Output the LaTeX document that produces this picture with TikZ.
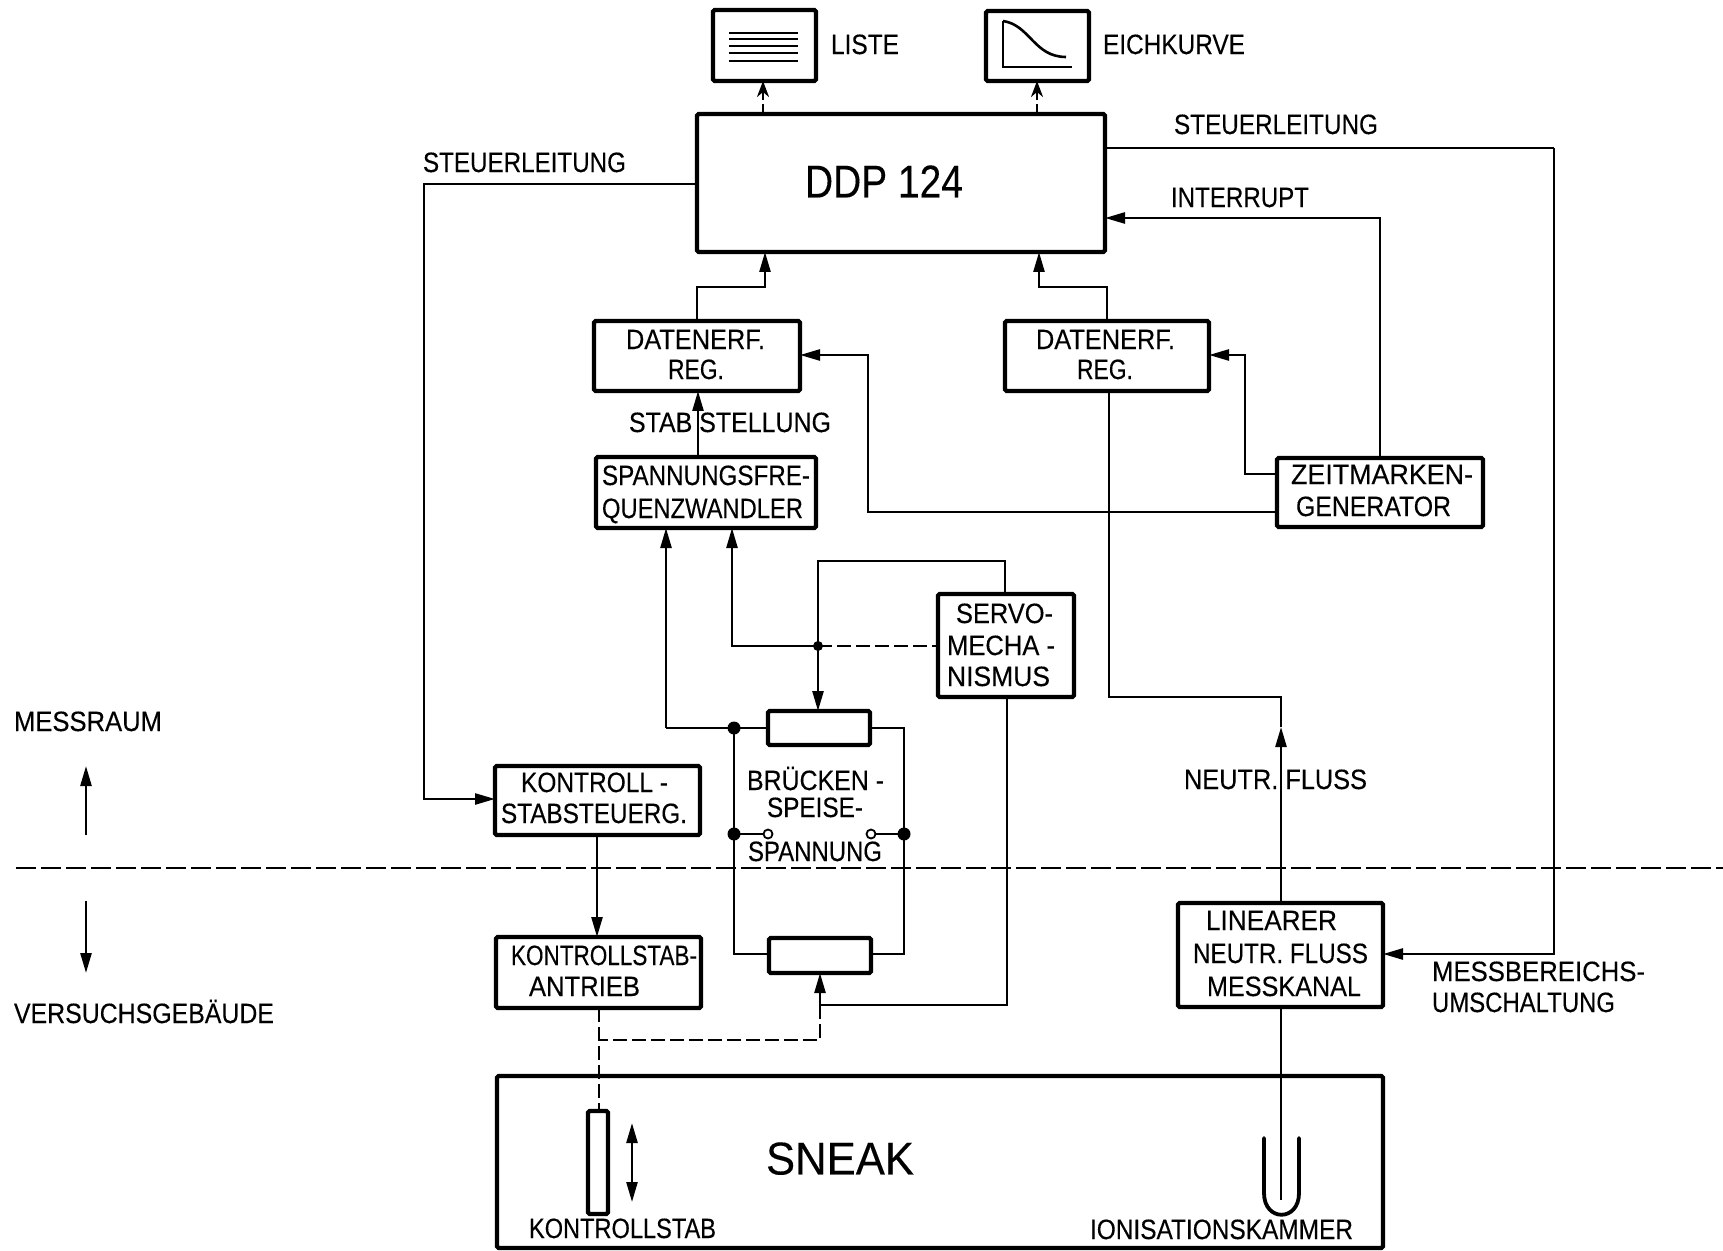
\documentclass[tikz,border=0pt]{standalone}
\usepackage{graphicx}
\usepackage{fontspec}
\setmainfont{Liberation Sans}
\newfontfamily\lblf{Liberation Sans}[FakeBold=0.25]
\usetikzlibrary{arrows.meta}
\newsavebox\lblb
% \bx{name}{x1}{y1}{x2}{y2}
\newcommand\bx[5]{\pgfmathsetmacro\bw{(#4-#2)*0.5}\pgfmathsetmacro\bh{(#5-#3)*0.5}%
  \node[blk,minimum width=\bw pt,minimum height=\bh pt] (#1) at ({(#2+#4)/2},{(#3+#5)/2}) {};}
% fit text horizontally to a target width, at a given size
\newcommand\fitw[3]{\sbox\lblb{\lblf\fontsize{#1}{#1}\selectfont #3}%
  \pgfmathsetmacro\rr{(#2)*0.5/\wd\lblb}\scalebox{\rr}[1]{\usebox\lblb}}
% \lbl[size]{name}{x1}{x2}{ycentre}{text}
\newcommand\lbl[6][14]{\pgfmathsetmacro\ys{-0.358*#1+0.5}%
  \node[txt,yshift=\ys pt] (#2) at ({(#3+#4)/2},{#5}) {\fitw{#1}{#4-#3}{#6}};}
\tikzset{
  blk/.style={draw,line width=2.1pt,rounded corners=0.8pt,inner sep=0pt,outer sep=0pt,fill=none},
  txt/.style={anchor=base,inner sep=0pt,outer sep=0pt},
  wire/.style={line width=1.25pt,line join=miter},
  arr/.style={wire,-{Triangle[length=10pt,width=5.5pt]}},
  darr/.style={wire,dash pattern=on 5pt off 2pt,-{Stealth[length=8pt,width=6pt,inset=2.5pt]}},
  dashw/.style={wire,dash pattern=on 7pt off 2.5pt},
  sepw/.style={line width=1.1pt,dash pattern=on 10pt off 2.5pt},
  dot/.style={circle,fill=black,draw=none,minimum size=6.5pt,inner sep=0pt},
  odot/.style={circle,fill=white,draw,line width=0.9pt,minimum size=4.5pt,inner sep=0pt},
  ink/.style={line width=1.3pt},
}
\begin{document}
\begin{tikzpicture}[x=0.5pt,y=-0.5pt]
\useasboundingbox (0,0) rectangle (1723,1251);
% boxes
\bx{liste}{713}{10}{816}{81}
\bx{eich}{986}{11}{1089}{81}
\bx{ddp}{697}{114}{1105}{252}
\bx{dl}{594}{321}{800}{391}
\bx{dr}{1005}{321}{1209}{391}
\bx{sf}{596}{457}{816}{528}
\bx{zm}{1277}{458}{1483}{527}
\bx{servo}{938}{594}{1074}{697}
\bx{bt}{768}{711}{870}{745}
\bx{bb}{769}{938}{871}{973}
\bx{kss}{495}{766}{700}{835}
\bx{ksa}{496}{937}{701}{1008}
\bx{lin}{1178}{903}{1383}{1007}
\bx{sneak}{497}{1076}{1383}{1248}
\bx{rod}{588}{1111}{608}{1214}
% named routing points
\coordinate (a1) at (763,0);
\coordinate (a2) at (1037,0);
\coordinate (a3) at (765,287);
\coordinate (a4) at (1039,287);
\coordinate (sl) at (424,184);
\coordinate (sk) at (424,799);
\coordinate (sr) at (1554,148);
\coordinate (srb) at (1554,954);
\coordinate (irq) at (1380,218);
\coordinate (zr) at (1245,474);
\coordinate (zrt) at (1245,355);
\coordinate (zl) at (868,512);
\coordinate (zlt) at (868,355);
\coordinate (up) at (698,0);
\coordinate (pa) at (666,0);
\coordinate (pb) at (732,0);
\coordinate (kx) at (597,0);
\coordinate (st) at (1005,561);
\coordinate (sb) at (1007,1005);
\coordinate (hx) at (818,561);
\coordinate (jc) at (818,646);
\coordinate (jl) at (734,728);
\coordinate (jr) at (904,728);
\coordinate (ml) at (734,834);
\coordinate (mr) at (904,834);
\coordinate (ol) at (768,834);
\coordinate (or) at (871,834);
\coordinate (bl) at (734,954);
\coordinate (br) at (904,954);
\coordinate (bx1) at (820,1005);
\coordinate (bx2) at (820,1040);
\coordinate (bx3) at (599,1040);
\coordinate (nf) at (1109,697);
\coordinate (nf2) at (1281,727);
\coordinate (nf3) at (1281,697);
\coordinate (ionb) at (1281,1200);
\coordinate (sepl) at (16,868);
\coordinate (sepr) at (1723,868);
\coordinate (upa) at (86,835);
\coordinate (upb) at (86,766);
\coordinate (dna) at (86,901);
\coordinate (dnb) at (86,973);
\coordinate (dba) at (632,1123);
\coordinate (dbb) at (632,1202);
% connectors
\draw[darr] (ddp.north -| a1) -- (liste.south -| a1);
\draw[darr] (ddp.north -| a2) -- (eich.south -| a2);
\draw[arr] (dl.north) |- (a3) -- (ddp.south -| a3);
\draw[arr] (dr.north) |- (a4) -- (ddp.south -| a4);
\draw[arr] (ddp.west |- sl) -- (sl) -- (sk) -- (kss.west |- sk);
\draw[arr] (sf.north -| up) -- (dl.south -| up);
\draw[wire] (ddp.east |- sr) -- (sr);
\draw[arr] (sr) -- (srb) -- (lin.east |- srb);
\draw[arr] (zm.north -| irq) -- (irq) -- (ddp.east |- irq);
\draw[arr] (zm.west |- zr) -- (zr) -- (zrt) -- (dr.east |- zrt);
\draw[arr] (zm.west |- zl) -- (zl) -- (zlt) -- (dl.east |- zlt);
\draw[arr] (jl -| pa) -- (sf.south -| pa);
\draw[wire] (jl -| pa) -- (jl);
\draw[wire] (jl) -- (jl -| bt.west);
\draw[wire] (jr -| bt.east) -- (jr) -- (br) -- (bb.east |- br);
\draw[wire] (jl) -- (bl) -- (bb.west |- bl);
\draw[arr] (jc) -- (jc -| pb) -- (sf.south -| pb);
\draw[dashw] (jc) -- (servo.west |- jc);
\draw[arr] (servo.north -| st) -- (st) -- (hx) -- (bt.north -| hx);
\draw[wire] (servo.south -| sb) -- (sb) -- (bx1);
\draw[arr] (bx1) -- (bb.south -| bx1);
\draw[dashw] (bx1) -- (bx2) -- (bx3);
\draw[dashw] (ksa.south -| bx3) -- (rod.north -| bx3);
\draw[arr] (kss.south -| kx) -- (ksa.north -| kx);
\draw[wire] (ml) -- (ol);
\draw[wire] (mr) -- (or);
\draw[arr] (lin.north -| nf2) -- (nf2);
\draw[wire] (nf2) -- (nf3) -- (nf) -- (dr.south -| nf);
\draw[wire] (lin.south -| ionb) -- (ionb);
\draw[sepw] (sepl) -- (sepr);
\draw[arr] (upa) -- (upb);
\draw[arr] (dna) -- (dnb);
\draw[wire,{Triangle[length=10pt,width=5.5pt]}-{Triangle[length=10pt,width=5.5pt]}] (dba) -- (dbb);
% junction dots
\node[dot,minimum size=5pt] (d0) at (jc) {};
\node[dot] (d1) at (jl) {};
\node[dot] (d2) at (ml) {};
\node[dot] (d3) at (mr) {};
\node[odot] (d4) at (ol) {};
\node[odot] (d5) at (or) {};
% icons
\foreach \yy in {33,39,46,53,61} \draw[ink] (729,\yy) -- (798,\yy);
\draw[ink] (1003,21) -- (1003,67) -- (1072,67);
\draw[ink] (1003,21) .. controls (1030,25) and (1034,57) .. (1066,57);
% ionisation chamber
\draw[line width=1.9pt,line cap=round] (1264,1138) -- (1264,1193) .. controls (1264,1222) and (1299,1222) .. (1299,1193) -- (1299,1138);
% labels
\lbl{tliste}{831}{899}{45}{LISTE}
\lbl{teich}{1103}{1245}{45}{EICHKURVE}
\lbl[23]{tddp}{805}{963}{182}{DDP 124}
\lbl{tsl}{423}{626}{163}{STEUERLEITUNG}
\lbl{tsr}{1174}{1378}{125}{STEUERLEITUNG}
\lbl{tirq}{1171}{1309}{198}{INTERRUPT}
\lbl{tdl1}{626}{765}{340}{DATENERF.}
\lbl{tdl2}{668}{724}{370}{REG.}
\lbl{tdr1}{1036}{1175}{340}{DATENERF.}
\lbl{tdr2}{1077}{1133}{370}{REG.}
\lbl{tstab}{629}{831}{423}{STAB STELLUNG}
\lbl{tsf1}{602}{810}{476}{SPANNUNGSFRE-}
\lbl{tsf2}{602}{803}{509}{QUENZWANDLER}
\lbl{tzm1}{1291}{1473}{475}{ZEITMARKEN-}
\lbl{tzm2}{1296}{1451}{507}{GENERATOR}
\lbl{tsv1}{956}{1053}{614}{SERVO-}
\lbl{tsv2}{947}{1055}{646}{MECHA -}
\lbl{tsv3}{947}{1050}{677}{NISMUS}
\lbl{tbr1}{747}{884}{781}{BRÜCKEN -}
\lbl{tbr2}{767}{863}{808}{SPEISE-}
\lbl{tbr3}{748}{882}{852}{SPANNUNG}
\lbl{tkss1}{521}{668}{783}{KONTROLL -}
\lbl{tkss2}{501}{687}{814}{STABSTEUERG.}
\lbl{tksa1}{511}{697}{956}{KONTROLLSTAB-}
\lbl{tksa2}{529}{640}{987}{ANTRIEB}
\lbl{tks}{529}{716}{1229}{KONTROLLSTAB}
\lbl[23]{tsn}{766}{914}{1159}{SNEAK}
\lbl{tion}{1090}{1353}{1230}{IONISATIONSKAMMER}
\lbl{tl1}{1206}{1337}{921}{LINEARER}
\lbl{tl2}{1193}{1368}{954}{NEUTR. FLUSS}
\lbl{tl3}{1207}{1361}{987}{MESSKANAL}
\lbl{tnf}{1184}{1367}{780}{NEUTR. FLUSS}
\lbl{tmb1}{1432}{1645}{972}{MESSBEREICHS-}
\lbl{tmb2}{1432}{1615}{1003}{UMSCHALTUNG}
\lbl{tmr}{14}{162}{722}{MESSRAUM}
\lbl{tvg}{14}{274}{1014}{VERSUCHSGEBÄUDE}
\end{tikzpicture}
\end{document}
